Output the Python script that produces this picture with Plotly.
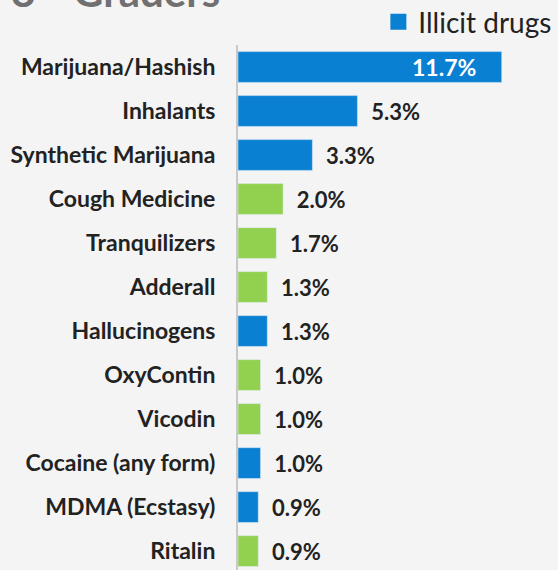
import plotly.graph_objects as go

categories = ["Marijuana/Hashish", "Inhalants", "Synthetic Marijuana", "Cough Medicine",
              "Tranquilizers", "Adderall", "Hallucinogens", "OxyContin", "Vicodin",
              "Cocaine (any form)", "MDMA (Ecstasy)", "Ritalin"]
values = [11.7, 5.3, 3.3, 2.0, 1.7, 1.3, 1.3, 1.0, 1.0, 1.0, 0.9, 0.9]
illicit = [True, True, True, False, False, False, True, False, False, True, True, False]

BLUE = "#0A80D2"
GREEN = "#92D050"
FONT = "Lato"
NB = "\u00a0"

ill_cat = [c for c, f in zip(categories, illicit) if f]
ill_val = [v for v, f in zip(values, illicit) if f]
oth_cat = [c for c, f in zip(categories, illicit) if not f]
oth_val = [v for v, f in zip(values, illicit) if not f]

def label(v, inside):
    s = f"{v:.1f}%"
    return s + NB * 4 if inside else NB * 2 + s

ill_inside = [v > 10 for v in ill_val]

fig = go.Figure()
fig.add_trace(go.Bar(
    y=ill_cat, x=ill_val, orientation="h", name="Illicit drugs",
    marker=dict(color=BLUE),
    text=[label(v, i) for v, i in zip(ill_val, ill_inside)],
    textposition=["inside" if i else "outside" for i in ill_inside],
    insidetextanchor="end",
    insidetextfont=dict(color="white", family=FONT, size=23, weight=700),
    outsidetextfont=dict(color="#222222", family=FONT, size=22, weight=700),
    constraintext="none",
    showlegend=False,
))
fig.add_trace(go.Bar(
    y=oth_cat, x=oth_val, orientation="h", name="Prescription/OTC",
    marker=dict(color=GREEN),
    text=[label(v, False) for v in oth_val],
    textposition="outside",
    outsidetextfont=dict(color="#222222", family=FONT, size=22, weight=700),
    constraintext="none",
    showlegend=False,
))
# legend entry for the illicit series (square swatch)
fig.add_trace(go.Scatter(
    x=[None], y=[None], mode="markers", name="Illicit drugs",
    marker=dict(symbol="square", size=20, color=BLUE), showlegend=True,
))

fig.add_annotation(
    text="8<sup>th</sup> Graders", xref="paper", yref="paper",
    x=-0.78, y=1.052, xanchor="left", yanchor="bottom", showarrow=False,
    font=dict(family=FONT, size=42, color="#707070", weight=700),
)

fig.update_layout(
    width=558, height=570,
    margin=dict(l=238, r=27, t=45, b=0, autoexpand=False),
    paper_bgcolor="#F4F4F4", plot_bgcolor="#F4F4F4",
    barmode="relative", bargap=0.3,
    font=dict(family=FONT, color="#222222"),
    legend=dict(x=1.09, xanchor="right", y=1.0438, yanchor="middle",
                font=dict(family=FONT, size=28, color="#222222"),
                bgcolor="rgba(0,0,0,0)", itemwidth=30),
    xaxis=dict(range=[0, 13], visible=False, showgrid=False, zeroline=False),
    yaxis=dict(categoryorder="array", categoryarray=categories,
               range=[11.43, -0.5], showgrid=False, zeroline=False,
               showline=True, linecolor="#C8C8C8", linewidth=2,
               ticks="", ticklabelstandoff=16,
               tickfont=dict(family=FONT, size=23, weight=700, color="#222222")),
)

fig.write_html("out.html", config={"displayModeBar": False},
               post_script="document.body.style.margin='0';document.body.style.overflow='hidden';")
